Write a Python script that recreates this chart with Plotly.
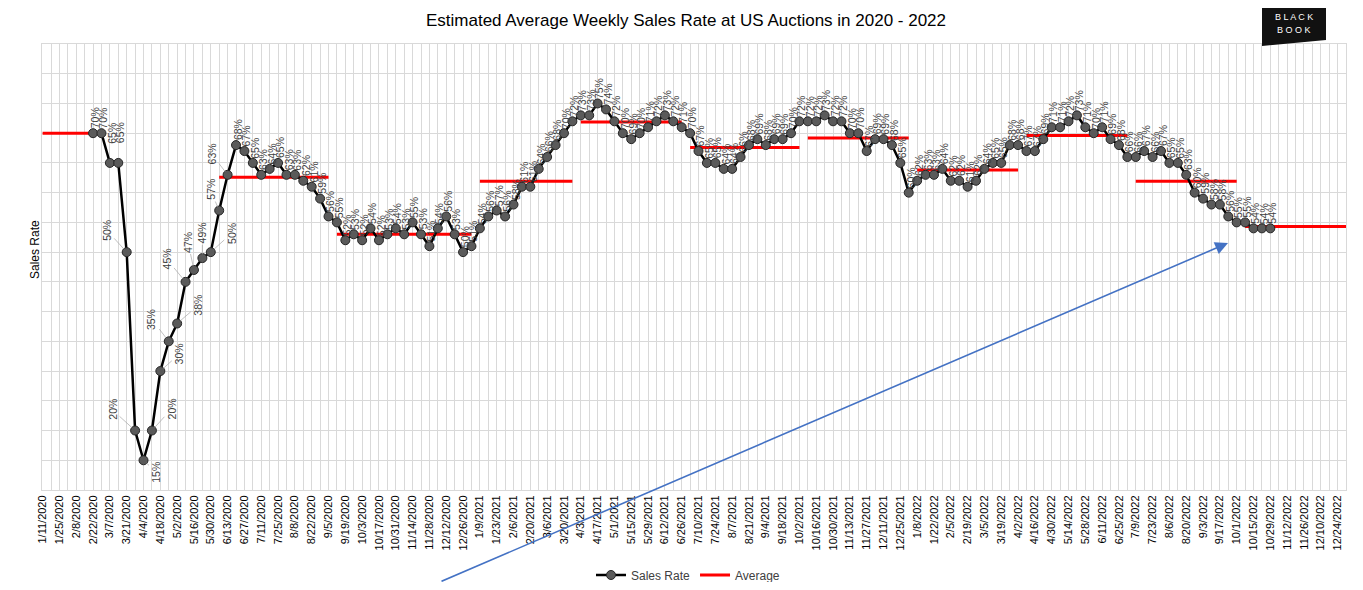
import pandas as pd
import plotly.graph_objects as go

# ---------------- data ----------------
week_start = "2020-01-11"
n_weeks = 156  # 1/11/2020 .. 12/31/2022 (weekly)

sales_rate = [None, None, None, None, None, None,
              70, 70, 65, 65, 50, 20, 15, 20, 30, 35, 38, 45, 47, 49, 50, 57, 63, 68,
              67, 65, 63, 64, 65, 63, 63, 62, 61, 59, 56, 55, 52, 53, 52, 54, 52, 53,
              54, 53, 55, 53, 51, 54, 56, 53, 50, 51, 54, 56, 57, 56, 58, 61, 61, 64,
              66, 68, 70, 72, 73, 73, 75, 74, 72, 70, 69, 70, 71, 72, 73, 72, 71, 70,
              67, 65, 65, 64, 64, 66, 68, 69, 68, 69, 69, 70, 72, 72, 72, 73, 72, 72,
              70, 70, 67, 69, 69, 68, 65, 60, 62, 63, 63, 64, 62, 62, 61, 62, 64, 65,
              65, 68, 68, 67, 67, 69, 71, 71, 72, 73, 71, 70, 71, 69, 68, 66, 66, 67,
              66, 67, 65, 65, 63, 60, 59, 58, 58, 56, 55, 55, 54, 54, 54]

avg_start = [0, 21, 35, 52, 64, 77, 91, 104, 117, 130, 143]
avg_end = [7, 34, 51, 63, 76, 90, 103, 116, 129, 142, 155]
avg_value = [70.0, 62.6, 53.0, 61.9, 71.9, 67.6, 69.2, 63.8, 69.6, 61.9, 54.3]

# labels with leader lines (week index: (dx, dy) pixel offsets)
label_leaders = {10: (-20, -22), 11: (-23, -21), 12: (13, 12), 13: (20, -22),
                 14: (19, -17), 15: (-17, -22), 16: (21, -18), 17: (-19, -23),
                 18: (-6, -28), 19: (0, -25), 20: (21, -19), 21: (-9, -21),
                 22: (-16, -21)}

title_text = "Estimated Average Weekly Sales Rate at US Auctions in 2020 - 2022"

# ---------------- geometry ----------------
OFF = 8           # page body margin
W, H = 1363 - 2 * OFF, 590 - 2 * OFF
PL, PR, PT, PB = 42, 1346, 44, 490   # plot area in reference pixels


def px(xp):
    return (xp - PL) / (PR - PL)


def py(yp):
    return (PB - yp) / (PB - PT)


FONT = "Liberation Sans, Arial, sans-serif"

# ---------------- build ----------------
dates = pd.date_range(week_start, periods=n_weeks, freq="7D")
sales_x = list(dates[:len(sales_rate)])

avg_x, avg_y = [], []
for s, e, v in zip(avg_start, avg_end, avg_value):
    avg_x += [dates[s], dates[e], None]
    avg_y += [v, v, None]

tick_dates = dates[0:155:2]
tick_text = [f"{d.month}/{d.day}/{d.year}" for d in tick_dates]

fig = go.Figure()
fig.add_trace(go.Scatter(
    x=avg_x, y=avg_y, mode="lines", name="Average",
    line=dict(color="#FF0000", width=3), connectgaps=False))
fig.add_trace(go.Scatter(
    x=sales_x, y=sales_rate, mode="lines+markers", name="Sales Rate",
    line=dict(color="#000000", width=2.5),
    marker=dict(size=9, color="#5A5A5A", line=dict(color="#262626", width=1))))

annotations = []
for i, v in enumerate(sales_rate):
    if v is None:
        continue
    if i in label_leaders:
        dx, dy = label_leaders[i]
        annotations.append(dict(
            x=dates[i], y=v, xref="x", yref="y", text=f"{v}%", textangle=-90,
            showarrow=True, arrowhead=0, arrowwidth=0.7, arrowcolor="#A6A6A6",
            ax=dx, ay=dy, standoff=4,
            font=dict(size=10.5, color="#404040", family=FONT)))
    else:
        dy = 15
        if i in (8, 9):
            dy = 30
        annotations.append(dict(
            x=dates[i], y=v, xref="x", yref="y", text=f"{v}%", textangle=-90,
            showarrow=False, xshift=2, yshift=dy,
            font=dict(size=10.5, color="#404040", family=FONT)))

# y-axis title
annotations.append(dict(
    x=px(35), y=py(250), xref="paper", yref="paper", text="Sales Rate",
    textangle=-90, showarrow=False, xanchor="center", yanchor="middle",
    font=dict(size=12, color="#000000", family=FONT)))

# logo text
annotations.append(dict(
    x=px(1294), y=py(17), xref="paper", yref="paper",
    text="B L A C K", showarrow=False, xanchor="center", yanchor="middle",
    font=dict(size=9, color="#FFFFFF", family=FONT)))
annotations.append(dict(
    x=px(1294), y=py(30), xref="paper", yref="paper",
    text="B O O K", showarrow=False, xanchor="center", yanchor="middle",
    font=dict(size=9, color="#FFFFFF", family=FONT)))

# blue arrow
annotations.append(dict(
    x=px(1228), y=py(243), xref="paper", yref="paper",
    axref="pixel", ayref="pixel", ax=440 - 1228, ay=592 - 243,
    text="", showarrow=True, arrowhead=2, arrowsize=1.6, arrowwidth=1.6,
    arrowcolor="#4472C4"))

shapes = [
    dict(type="path", xref="paper", yref="paper",
         path=f"M {px(1262)},{py(2)} L {px(1326)},{py(2)} L {px(1326)},{py(40)} "
              f"L {px(1262)},{py(46)} Z",
         fillcolor="#111111", line=dict(width=0), layer="above"),
]

fig.update_layout(
    width=W, height=H,
    margin=dict(l=PL - OFF, r=W - (PR - OFF), t=PT - OFF, b=H - (PB - OFF),
                autoexpand=False),
    paper_bgcolor="white", plot_bgcolor="white",
    font=dict(family=FONT, color="#000000"),
    title=dict(text=title_text, x=(686 - OFF) / W, xref="container", xanchor="center",
               y=1 - (20 - OFF) / H, yref="container", yanchor="middle",
               font=dict(size=17, color="#000000", family=FONT)),
    showlegend=True,
    legend=dict(orientation="h", x=(688 - OFF) / W, xref="container", xanchor="center",
                y=1 - (575 - OFF) / H, yref="container", yanchor="middle",
                traceorder="reversed", font=dict(size=12, color="#404040"),
                bgcolor="rgba(0,0,0,0)"),
    annotations=annotations,
    shapes=shapes,
)

fig.update_xaxes(
    type="date",
    range=[pd.Timestamp(week_start) - pd.Timedelta(hours=12), dates[155]],
    tickvals=list(tick_dates), ticktext=tick_text, tickangle=-90,
    tickfont=dict(size=11, color="#000000"),
    showgrid=True, gridcolor="#D9D9D9", gridwidth=1,
    minor=dict(tickvals=list(dates), showgrid=True, gridcolor="#D9D9D9", gridwidth=1),
    showline=True, linecolor="#D9D9D9", mirror=True,
    ticks="", zeroline=False, automargin=False,
)
fig.update_yaxes(
    range=[10, 85], dtick=5, tick0=0,
    showticklabels=False, showgrid=True, gridcolor="#D9D9D9", gridwidth=1,
    showline=True, linecolor="#D9D9D9", mirror=True, zeroline=False, ticks="",
    automargin=False,
)

fig.write_html("out.html")
